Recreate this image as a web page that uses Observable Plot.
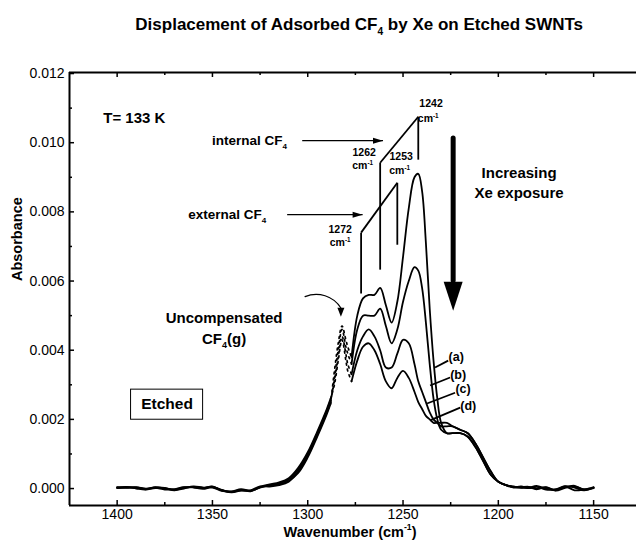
<!DOCTYPE html>
<html>
<head>
<meta charset="utf-8">
<script src="https://cdn.jsdelivr.net/npm/d3@7"></script>
<script src="https://cdn.jsdelivr.net/npm/@observablehq/plot@0.6"></script>
<style>
  html, body { margin: 0; padding: 0; background: #fff; overflow: hidden; }
  #chart svg { display: block; font-family: "Liberation Sans", Arial, sans-serif; }
</style>
</head>
<body>
<div id="chart"></div>
<script>
// ---------------- data ----------------
const seriesNames = ["a", "b", "c", "d"];

// left wing (solid)
const wnLeft = [1400,1395,1390,1385,1380,1375,1370,1365,1360,1355,1350,1345,1340,1335,1330,1325,1320,1315,1310,1305,1300,1295,1290,1288];
const aLeft = [0.00003,0.00005,0.00002,-0.00002,0.00004,0.00000,-0.00004,0.00002,0.00005,0.00001,0.00006,-0.00006,-0.00009,-0.00004,-0.00008,0.00004,0.00008,0.00012,0.00022,0.00045,0.00090,0.00150,0.00215,0.00245];
const bLeft = [0.00001,0.00003,0.00004,0.00000,0.00002,-0.00003,-0.00002,0.00004,0.00003,-0.00001,0.00004,-0.00004,-0.00011,-0.00006,-0.00005,0.00006,0.00006,0.00010,0.00020,0.00050,0.00095,0.00155,0.00220,0.00250];
const cLeft = [0.00002,0.00004,0.00000,-0.00003,0.00003,0.00002,-0.00005,0.00000,0.00006,0.00003,0.00003,-0.00007,-0.00008,-0.00002,-0.00006,0.00003,0.00010,0.00015,0.00026,0.00055,0.00100,0.00160,0.00225,0.00255];
const dLeft = [0.00004,0.00002,0.00003,-0.00001,0.00001,0.00001,-0.00003,0.00003,0.00004,0.00002,0.00005,-0.00005,-0.00010,-0.00005,-0.00007,0.00005,0.00012,0.00018,0.00030,0.00060,0.00105,0.00165,0.00230,0.00260];

// uncompensated gas-phase region (dotted)
const wnDot = [1288,1286,1284,1282,1280,1279,1277];
const aDot = [0.00245,0.0034,0.0042,0.0047,0.0043,0.0041,0.0038];
const bDot = [0.00250,0.0032,0.0040,0.0046,0.0041,0.0039,0.0036];
const cDot = [0.00255,0.0031,0.0038,0.0044,0.0039,0.0036,0.0033];
const dDot = [0.00260,0.0030,0.0037,0.0043,0.0037,0.0034,0.0031];

// adsorbed CF4 region + right wing (solid)
const wnRight = [1277,1274,1271,1268,1265,1262,1259,1256,1253,1250,1247,1244,1242,1240,1238,1236,1234,1232,1230,1227,1224,1220,1216,1212,1208,1204,1200,1196,1192,1188,1184,1180,1175,1170,1165,1160,1155,1150];
const aRight = [0.0038,0.0050,0.0055,0.0056,0.0056,0.0058,0.0053,0.0048,0.0054,0.0067,0.0081,0.0090,0.0091,0.0086,0.0071,0.0052,0.0037,0.0026,0.0019,0.0016,0.0016,0.0016,0.0015,0.0012,0.0008,0.0004,0.0002,0.0001,0.00005,0.00003,0.00002,0.00008,0.00000,-0.00004,0.00006,-0.00005,-0.00003,0.00002];
const bRight = [0.0036,0.0046,0.0050,0.0050,0.0050,0.0052,0.0047,0.0042,0.0046,0.0054,0.0060,0.0064,0.0063,0.0058,0.0048,0.0036,0.0026,0.0020,0.0017,0.0016,0.0016,0.0016,0.0015,0.0012,0.0008,0.0004,0.0002,0.0001,0.00006,0.00002,0.00004,-0.00002,0.00004,-0.00006,0.00002,0.00008,-0.00004,0.00001];
const cRight = [0.0033,0.0040,0.0044,0.0046,0.0044,0.0040,0.0035,0.0035,0.0039,0.0043,0.0042,0.0036,0.0031,0.0028,0.0025,0.0022,0.0020,0.0019,0.0018,0.0018,0.0018,0.0017,0.0016,0.0013,0.0009,0.0005,0.0002,0.0001,0.00004,0.00006,0.00001,0.00005,-0.00003,-0.00002,0.00007,0.00003,-0.00005,0.00003];
const dRight = [0.0031,0.0037,0.0041,0.0042,0.0040,0.0036,0.0031,0.0029,0.0032,0.0034,0.0032,0.0028,0.0025,0.0023,0.0021,0.0020,0.0019,0.0019,0.0019,0.0019,0.0018,0.0017,0.0016,0.0013,0.0009,0.0005,0.0002,0.0001,0.00003,0.00004,0.00005,0.00000,0.00003,-0.00005,0.00004,0.00006,-0.00002,0.00004];

// axes
const xTicks = [1400,1350,1300,1250,1200,1150];
const xMinorTicks = [1375,1325,1275,1225,1175];
const yTicks = [0,0.002,0.004,0.006,0.008,0.010,0.012];
const yMinorTicks = [0.001,0.003,0.005,0.007,0.009,0.011];
const xDomain = [1425, 1127.5];
const yDomain = [-0.00049, 0.01203];

// texts
const titleText = "Displacement of Adsorbed CF_{4} by Xe on Etched SWNTs";
const xLabel = "Wavenumber (cm^{-1})";
const yLabel = "Absorbance";

// annotations: [text, wavenumber, absorbance, fontSize]
const leftLabels = [
  ["T= 133 K", 1407.3, 0.01072, 15],
  ["internal CF_{4}", 1350.2, 0.01006, 13.5],
  ["external CF_{4}", 1362.7, 0.00792, 13.5]
];
const centerLabels = [
  ["Increasing", 1189.1, 0.00913, 15],
  ["Xe exposure", 1189.1, 0.00855, 15],
  ["Uncompensated", 1343.9, 0.00494, 15],
  ["CF_{4}(g)", 1343.9, 0.00432, 15],
  ["Etched", 1373.8, 0.00243, 15.5]
];
const peakLabels = [
  ["1242", 1235.3, 0.01113], ["cm^{-1}", 1236.8, 0.01069],
  ["1262", 1270.4, 0.00972], ["cm^{-1}", 1271.2, 0.00933],
  ["1253", 1251.0, 0.00960], ["cm^{-1}", 1251.8, 0.00918],
  ["1272", 1283.0, 0.00749], ["cm^{-1}", 1283.0, 0.00711]
];
const curveLabels = [
  ["(a)", 1222.1, 0.00379], ["(b)", 1221.1, 0.00327],
  ["(c)", 1218.5, 0.00289], ["(d)", 1215.8, 0.00240]
];
// straight annotation segments [x1, y1, x2, y2]
const segments = [
  [1262, 0.00942, 1242, 0.01075], [1262, 0.00942, 1262, 0.00633], [1242, 0.01075, 1242, 0.00951],
  [1272, 0.00740, 1253, 0.00884], [1272, 0.00740, 1272, 0.00564], [1253, 0.00884, 1253, 0.00705],
  [1233.2, 0.00350, 1226.3, 0.00370], [1235.8, 0.00298, 1225.3, 0.00321],
  [1237.4, 0.00246, 1222.7, 0.00277], [1235.8, 0.00197, 1220.0, 0.00234]
];
// horizontal arrows [x1, x2, y]
const hArrows = [[1302.9, 1260.5, 0.01006], [1310.8, 1271.2, 0.00792]];
const bigArrow = {x: 1223.7, yTop: 0.01012, yBase: 0.0060, yTip: 0.00514};
const curvedArrow = {x1: 1301.4, y1: 0.00555, x2: 1282.6, y2: 0.00522, tipY: 0.00497};
const etchedBox = {x1: 1392.7, x2: 1354.9, y1: 0.00199, y2: 0.00286};

// ---------------- build rows ----------------
function rows(wn, arrs) {
  const out = [];
  arrs.forEach((arr, i) => arr.forEach((v, j) => out.push({wn: wn[j], A: v, s: seriesNames[i]})));
  return out;
}
const leftRows = rows(wnLeft, [aLeft, bLeft, cLeft, dLeft]);
const dotRows = rows(wnDot, [aDot, bDot, cDot, dDot]);
const rightRows = rows(wnRight, [aRight, bRight, cRight, dRight]);

const W = 636, H = 542, mL = 69, mR = 0, mT = 72, mB = 37;
const fh = H - mT - mB, fw = W - mL - mR;

const headSym = (L, Wd) => ({draw(ctx) { ctx.moveTo(0, 0); ctx.lineTo(-Wd / 2, -L); ctx.lineTo(Wd / 2, -L); ctx.closePath(); }});

const bold = {fontWeight: "bold", fill: "black"};

const plot = Plot.plot({
  width: W, height: H,
  marginLeft: mL, marginRight: mR, marginTop: mT, marginBottom: mB,
  style: {fontFamily: "'Liberation Sans', Arial, sans-serif", color: "black", background: "white"},
  x: {domain: xDomain},
  y: {domain: yDomain},
  marks: [
    // spectra
    Plot.line(leftRows, {x: "wn", y: "A", z: "s", curve: "catmull-rom", stroke: "black", strokeWidth: 1.8}),
    Plot.line(rightRows, {x: "wn", y: "A", z: "s", curve: "catmull-rom", stroke: "black", strokeWidth: 1.8}),
    Plot.line(dotRows, {x: "wn", y: "A", z: "s", curve: "catmull-rom", stroke: "black", strokeWidth: 1.7, strokeDasharray: "1.8,4.2"}),
    // frame (left, top, bottom)
    Plot.ruleX([xDomain[0]], {stroke: "black", strokeWidth: 2}),
    Plot.ruleY([yDomain[0]], {stroke: "black", strokeWidth: 2}),
    Plot.ruleY([yDomain[1]], {stroke: "black", strokeWidth: 2}),
    // inward ticks
    Plot.tickX(xTicks, {x: d => d, insetTop: fh - 5, stroke: "black", strokeWidth: 1.5}),
    Plot.tickX(xTicks, {x: d => d, insetBottom: fh - 5, stroke: "black", strokeWidth: 1.5}),
    Plot.tickX(xMinorTicks, {x: d => d, insetTop: fh - 3, stroke: "black", strokeWidth: 1.5}),
    Plot.tickX(xMinorTicks, {x: d => d, insetBottom: fh - 3, stroke: "black", strokeWidth: 1.5}),
    Plot.tickY(yTicks, {y: d => d, insetRight: fw - 5, stroke: "black", strokeWidth: 1.5}),
    Plot.tickY(yMinorTicks, {y: d => d, insetRight: fw - 3, stroke: "black", strokeWidth: 1.5}),
    // tick labels
    Plot.axisX({ticks: xTicks, tickSize: 0, tickPadding: 4, fontSize: 14, label: null, tickFormat: d => String(d)}),
    Plot.axisY({ticks: yTicks, tickSize: 0, tickPadding: 5, fontSize: 14, label: null, tickFormat: d3.format(".3f")}),
    // axis titles
    Plot.text([xLabel], {text: d => d, x: 1277.8, frameAnchor: "bottom", dy: 31, fontSize: 14.5, ...bold}),
    Plot.text([yLabel], {text: d => d, y: 0.006, frameAnchor: "left", dx: -52, rotate: -90, fontSize: 14.5, ...bold}),
    // title
    Plot.text([titleText], {text: d => d, x: 1273, frameAnchor: "top", dy: -55, fontSize: 17, ...bold}),
    // annotation text
    Plot.text(leftLabels, {x: d => d[1], y: d => d[2], text: d => d[0], textAnchor: "start", fontSize: d => d[3], ...bold}),
    Plot.text(centerLabels, {x: d => d[1], y: d => d[2], text: d => d[0], textAnchor: "middle", fontSize: d => d[3], ...bold}),
    Plot.text(peakLabels, {x: d => d[1], y: d => d[2], text: d => d[0], fontSize: 10.5, ...bold}),
    Plot.text(curveLabels, {x: d => d[1], y: d => d[2], text: d => d[0], fontSize: 12.5, ...bold}),
    // annotation lines
    Plot.link(segments, {x1: d => d[0], y1: d => d[1], x2: d => d[2], y2: d => d[3], stroke: "black", strokeWidth: 1.8}),
    Plot.link(hArrows, {x1: d => d[0], y1: d => d[2], x2: d => d[1], y2: d => d[2], stroke: "black", strokeWidth: 1.3}),
    Plot.dot(hArrows, {x: d => d[1], y: d => d[2], symbol: headSym(10, 6), rotate: -90, fill: "black", stroke: null, r: 4}),
    // big arrow
    Plot.ruleX([bigArrow], {x: "x", y1: "yTop", y2: "yBase", stroke: "black", strokeWidth: 5, strokeLinecap: "round"}),
    Plot.dot([bigArrow], {x: "x", y: "yTip", symbol: headSym(29, 19), fill: "black", stroke: null, r: 4}),
    // curved arrow
    Plot.arrow([curvedArrow], {x1: "x1", y1: "y1", x2: "x2", y2: "y2", bend: 40, headLength: 0, stroke: "black", strokeWidth: 1.2}),
    Plot.dot([curvedArrow], {x: "x2", y: "tipY", symbol: headSym(9, 7), fill: "black", stroke: null, r: 4}),
    // Etched box
    Plot.rect([etchedBox], {x1: "x1", x2: "x2", y1: "y1", y2: "y2", fill: "none", stroke: "black", strokeWidth: 1})
  ]
});

document.getElementById("chart").appendChild(plot);

// sub/superscript markup: _{..} and ^{..}
(function richify(svg) {
  const NS = "http://www.w3.org/2000/svg";
  svg.querySelectorAll("text").forEach(el => {
    const targets = el.querySelector("tspan") ? [...el.querySelectorAll("tspan")] : [el];
    targets.forEach(t => {
      const s = t.textContent;
      if (!/[_^]\{/.test(s)) return;
      const fs = parseFloat(getComputedStyle(t).fontSize) || 14;
      t.textContent = "";
      let shift = 0;
      s.split(/([_^]\{[^}]*\})/).forEach(p => {
        if (!p) return;
        const ts = document.createElementNS(NS, "tspan");
        const m = p.match(/^([_^])\{([^}]*)\}$/);
        let target = 0, txt = p;
        if (m) { txt = m[2]; target = m[1] === "_" ? fs * 0.3 : -fs * 0.42; ts.setAttribute("font-size", (fs * 0.6).toFixed(1)); }
        ts.setAttribute("dy", (target - shift).toFixed(2));
        shift = target;
        ts.textContent = txt;
        t.appendChild(ts);
      });
    });
  });
})(plot);
</script>
</body>
</html>
